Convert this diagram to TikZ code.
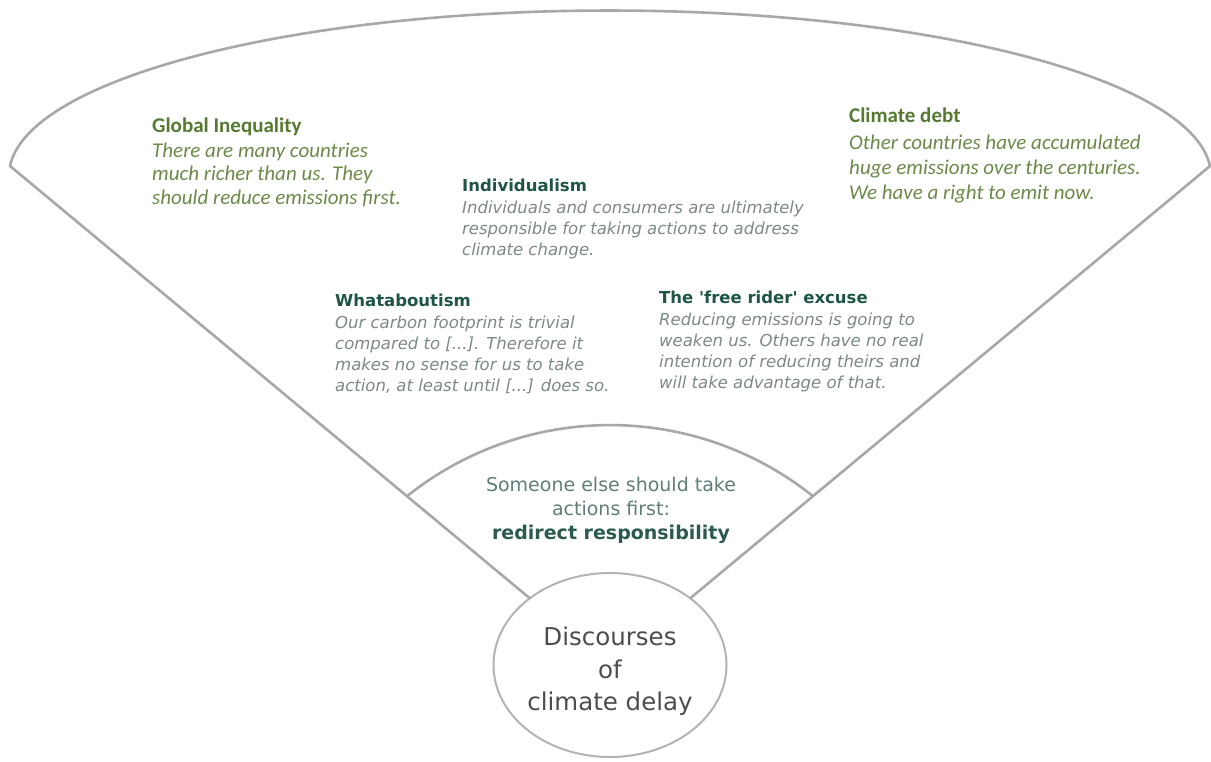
\documentclass[tikz,border=0pt]{standalone}
\usepackage{fontspec}
\usetikzlibrary{shapes.geometric,calc}
\newfontfamily\calib{Carlito}
\newfontfamily\verd{DejaVu Sans}
\definecolor{olivehead}{HTML}{557A31}
\definecolor{olivebody}{HTML}{6C8A48}
\definecolor{tealhead}{HTML}{1F5546}
\definecolor{graybody}{HTML}{7C8A86}
\definecolor{someonec}{HTML}{5F7E77}
\definecolor{redirc}{HTML}{2B5A4E}
\definecolor{disctext}{HTML}{4D4D4D}
\definecolor{outlinegray}{HTML}{A8A8A8}
\definecolor{circgray}{HTML}{B3B3B3}
\begin{document}
\begin{tikzpicture}[x=1pt,y=-1pt,
  outline/.style={draw=outlinegray, line width=2.6pt, line cap=round},
  greenblock/.style={anchor=north west, inner sep=0pt, align=left,
    font=\calib\fontsize{21}{23.5}\selectfont, text=olivebody},
  tealblock/.style={anchor=north west, inner sep=0pt, align=left,
    font=\verd\fontsize{16.5}{21}\selectfont, text=graybody},
  centerblock/.style={anchor=north, inner sep=0pt, align=center,
    font=\verd\fontsize{19}{24}\selectfont, text=someonec},
  disc/.style={ellipse, draw=circgray, line width=2pt, minimum width=233pt,
    minimum height=184pt, inner sep=0pt},
  disctextstyle/.style={inner sep=0pt, align=center,
    font=\verd\fontsize{24.5}{32.5}\selectfont, text=disctext}]
\fill[white] (0,0) rectangle (1211,761);
\useasboundingbox (0,0) rectangle (1211,761);

\coordinate (L) at (10,166);
\coordinate (R) at (1210,166);
\node[disc] (disc) at (610,665) {};
\node[disctextstyle] (disctxt) at (610,671.5) {Discourses\\of\\climate delay};

\draw[outline] (L) arc[start angle=176.69, end angle=3.31, x radius=601pt, y radius=165pt];
\draw[outline] (L) -- (disc);
\draw[outline] (R) -- (disc);
\coordinate (il) at ($(L)!0.6617!(disc.center)$);
\coordinate (ir) at ($(R)!0.6617!(disc.center)$);
\draw[outline] (il) .. controls +(118.7,-94.8) and +(-118.7,-94.8) .. (ir);

\node[greenblock] (gi) at (152,118) {{\bfseries\color{olivehead}Global Inequality}\\[1pt]\itshape There are many countries\\\itshape much richer than us. They\\\itshape should reduce emissions first.};
\node[greenblock] (cd) at (849,107.5) {{\bfseries\color{olivehead}Climate debt}\\[3.5pt]\itshape Other countries have accumulated\\[1.5pt]\itshape huge emissions over the centuries.\\[1.5pt]\itshape We have a right to emit now.};

\node[tealblock] (ind) at (462,179) {{\bfseries\color{tealhead}Individualism}\\[1pt]\itshape Individuals and consumers are ultimately\\\itshape responsible for taking actions to address\\\itshape climate change.};
\node[tealblock] (wha) at (335,294) {{\bfseries\color{tealhead}Whataboutism}\\[1pt]\itshape Our carbon footprint is trivial\\\itshape compared to [...]. Therefore it\\\itshape makes no sense for us to take\\\itshape action, at least until [...] does so.};
\node[tealblock] (fr) at (659,291) {{\bfseries\color{tealhead}The \textquotesingle free rider\textquotesingle\ excuse}\\[1pt]\itshape Reducing emissions is going to\\\itshape weaken us. Others have no real\\\itshape intention of reducing theirs and\\\itshape will take advantage of that.};

\node[centerblock] (se) at (611,477) {Someone else should take\\actions first:\\{\bfseries\color{redirc}redirect responsibility}};
\end{tikzpicture}
\end{document}
